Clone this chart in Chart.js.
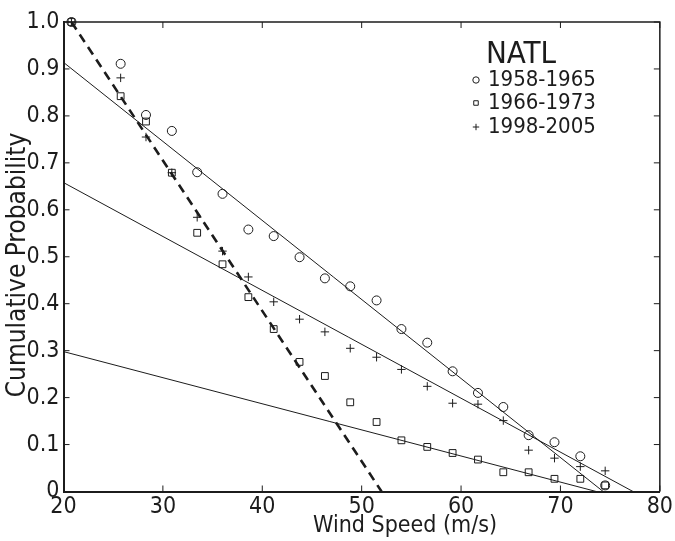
<!DOCTYPE html>
<html>
<head>
<meta charset="utf-8">
<script src="https://cdn.jsdelivr.net/npm/chart.js@4.4.0/dist/chart.umd.min.js"></script>
<style>
  body { margin: 0; background: #fff; }
  #wrap { width: 675px; height: 541px; }
</style>
</head>
<body>
<div id="wrap"><canvas id="c" width="675" height="541"></canvas></div>
<script>
const FONT = "'Liberation Sans Narrow', 'DejaVu Sans Condensed', 'Arial Narrow', sans-serif";
const INK = '#1c1c1c';

// wind speed bins (m/s), shared by the three periods
const windSpeed = [20.8, 25.75, 28.3, 30.9, 33.45, 36.0, 38.6, 41.15, 43.75, 46.3, 48.85,
  51.5, 54.0, 56.6, 59.15, 61.7, 64.25, 66.8, 69.4, 72.0, 74.5];

const p1958 = [1.0, 0.911, 0.802, 0.768, 0.680, 0.634, 0.558, 0.544, 0.499, 0.454, 0.437,
  0.407, 0.346, 0.317, 0.256, 0.210, 0.180, 0.120, 0.105, 0.075, 0.013];
const p1966 = [1.0, 0.842, 0.788, 0.679, 0.551, 0.484, 0.414, 0.346, 0.276, 0.246, 0.190,
  0.148, 0.109, 0.095, 0.082, 0.068, 0.041, 0.041, 0.027, 0.027, 0.013];
const p1998 = [1.0, 0.881, 0.755, 0.679, 0.584, 0.512, 0.457, 0.404, 0.367, 0.340, 0.305,
  0.286, 0.260, 0.224, 0.188, 0.186, 0.151, 0.088, 0.071, 0.053, 0.044];

// fitted lines (end points)
const fitA_x = [20, 74.3], fitA_y = [0.914, 0];
const fitB_x = [20, 77.3], fitB_y = [0.658, 0];
const fitC_x = [20, 73.6], fitC_y = [0.298, 0];
const fitD_x = [20.8, 52.0], fitD_y = [1.0, 0];

const xTicks = [20, 30, 40, 50, 60, 70, 80];
const yTicks = [0, 0.1, 0.2, 0.3, 0.4, 0.5, 0.6, 0.7, 0.8, 0.9, 1.0];
const yTickLabels = ['0', '0.1', '0.2', '0.3', '0.4', '0.5', '0.6', '0.7', '0.8', '0.9', '1.0'];

const pts = (xs, ys) => xs.map((x, i) => ({ x: x, y: ys[i] }));

const marks = (label, ys, style, r) => ({
  label: label, data: pts(windSpeed, ys), showLine: false, clip: false,
  pointStyle: style, pointRadius: r, pointHoverRadius: r,
  pointBorderColor: INK, pointBackgroundColor: 'rgba(0,0,0,0)', pointBorderWidth: 1
});
const fit = (xs, ys, w, dash) => ({
  label: '', data: pts(xs, ys), showLine: true, pointRadius: 0,
  borderColor: INK, borderWidth: w, borderDash: dash || [], fit: true
});

const frame = {
  id: 'frame',
  afterDraw(chart) {
    const ctx = chart.ctx, a = chart.chartArea;
    const sx = chart.scales.x, sy = chart.scales.y;
    ctx.save();
    ctx.strokeStyle = INK;
    ctx.lineWidth = 1.5;
    ctx.beginPath();
    ctx.moveTo(a.left, a.top); ctx.lineTo(a.right, a.top); ctx.lineTo(a.right, a.bottom);
    ctx.stroke();
    ctx.lineWidth = 1;
    ctx.beginPath();
    xTicks.forEach(v => {
      const px = sx.getPixelForValue(v);
      ctx.moveTo(px, a.bottom); ctx.lineTo(px, a.bottom - 6);
      ctx.moveTo(px, a.top); ctx.lineTo(px, a.top + 6);
    });
    yTicks.forEach(v => {
      const py = sy.getPixelForValue(v);
      ctx.moveTo(a.left, py); ctx.lineTo(a.left + 6, py);
      ctx.moveTo(a.right, py); ctx.lineTo(a.right - 6, py);
    });
    ctx.stroke();

    // axis titles
    ctx.fillStyle = INK;
    ctx.font = '23px ' + FONT;
    ctx.textAlign = 'center';
    ctx.textBaseline = 'middle';
    ctx.fillText('Wind Speed (m/s)', 405, 526);
    ctx.save();
    ctx.translate(18, 265);
    ctx.rotate(-Math.PI / 2);
    ctx.font = '26px ' + FONT;
    ctx.fillText('Cumulative Probability', 0, 0);
    ctx.restore();

    // legend block
    ctx.textAlign = 'left';
    ctx.textBaseline = 'alphabetic';
    ctx.font = '31px ' + FONT;
    ctx.fillText('NATL', 486, 63);
    ctx.font = '22px ' + FONT;
    const rows = [80, 103, 127];
    chart.data.datasets.filter(d => !d.fit).forEach((d, i) => {
      ctx.fillStyle = 'rgba(0,0,0,0)';
      ctx.strokeStyle = INK;
      ctx.lineWidth = 1;
      Chart.helpers.drawPoint(ctx, { pointStyle: d.pointStyle, radius: 3.2, borderWidth: 1 }, 476, rows[i]);
      ctx.fillStyle = INK;
      ctx.textBaseline = 'middle';
      ctx.fillText(d.label, 488, rows[i]);
    });
    ctx.restore();
  }
};

new Chart(document.getElementById('c'), {
  type: 'scatter',
  data: {
    datasets: [
      marks('1958-1965', p1958, 'circle', 4.5),
      marks('1966-1973', p1966, 'rect', 4.8),
      marks('1998-2005', p1998, 'cross', 4.2),
      fit(fitA_x, fitA_y, 1),
      fit(fitB_x, fitB_y, 1),
      fit(fitC_x, fitC_y, 1),
      fit(fitD_x, fitD_y, 2.6, [9, 6])
    ]
  },
  options: {
    responsive: false,
    animation: false,
    layout: { padding: { left: 0, right: 15, top: 22, bottom: 0 } },
    plugins: { legend: { display: false }, tooltip: { enabled: false } },
    scales: {
      x: {
        type: 'linear', min: 20, max: 80,
        afterFit: s => { s.height = 49.5; },
        afterBuildTicks: s => { s.ticks = xTicks.map(v => ({ value: v })); },
        grid: { display: false, drawTicks: false },
        border: { display: true, color: INK, width: 2 },
        ticks: { color: INK, font: { family: FONT, size: 23 }, padding: 2, maxRotation: 0 }
      },
      y: {
        type: 'linear', min: 0, max: 1,
        afterFit: s => { s.width = 63.5; },
        afterBuildTicks: s => { s.ticks = yTicks.map(v => ({ value: v })); },
        grid: { display: false, drawTicks: false },
        border: { display: true, color: INK, width: 2 },
        ticks: {
          color: INK, font: { family: FONT, size: 23 }, padding: 4,
          callback: (v, i) => yTickLabels[i]
        }
      }
    }
  },
  plugins: [frame]
});
</script>
</body>
</html>
